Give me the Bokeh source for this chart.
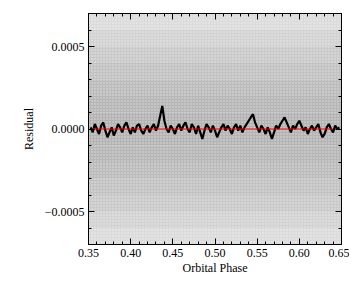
from bokeh.plotting import figure
from bokeh.models import (Range1d, SingleIntervalTicker, LinearAxis,
                          CustomJSTickFormatter, ColumnDataSource)
from bokeh.embed import file_html
from bokeh.resources import INLINE

# --- data ---
# density of the gray residual cloud per residual band (fraction of area covered)
band_bottom = [-0.00080, -0.00070, -0.00060, -0.00050, -0.00040, -0.00030, -0.00020, -0.00010,
               0.00000, 0.00010, 0.00020, 0.00030, 0.00040, 0.00050, 0.00060, 0.00070]
band_top = [-0.00070, -0.00060, -0.00050, -0.00040, -0.00030, -0.00020, -0.00010, 0.00000,
            0.00010, 0.00020, 0.00030, 0.00040, 0.00050, 0.00060, 0.00070, 0.00080]
band_cover = [0.30, 0.37, 0.45, 0.54, 0.62, 0.69, 0.74, 0.77,
              0.77, 0.74, 0.69, 0.62, 0.54, 0.45, 0.36, 0.29]

# binned residuals (black curve)
bin_phase = [0.3525, 0.3550, 0.3575, 0.3600, 0.3625, 0.3650, 0.3675, 0.3700, 0.3725, 0.3750,
             0.3775, 0.3800, 0.3825, 0.3850, 0.3875, 0.3900, 0.3925, 0.3950, 0.3975, 0.4000,
             0.4025, 0.4050, 0.4075, 0.4100, 0.4125, 0.4150, 0.4175, 0.4200, 0.4225, 0.4250,
             0.4275, 0.4300, 0.4325, 0.4350, 0.4375, 0.4400, 0.4425, 0.4450, 0.4475, 0.4500,
             0.4525, 0.4550, 0.4575, 0.4600, 0.4625, 0.4650, 0.4675, 0.4700, 0.4725, 0.4750,
             0.4775, 0.4800, 0.4825, 0.4850, 0.4875, 0.4900, 0.4925, 0.4950, 0.4975, 0.5000,
             0.5025, 0.5050, 0.5075, 0.5100, 0.5125, 0.5150, 0.5175, 0.5200, 0.5225, 0.5250,
             0.5275, 0.5300, 0.5325, 0.5350, 0.5375, 0.5400, 0.5425, 0.5450, 0.5475, 0.5500,
             0.5525, 0.5550, 0.5575, 0.5600, 0.5625, 0.5650, 0.5675, 0.5700, 0.5725, 0.5750,
             0.5775, 0.5800, 0.5825, 0.5850, 0.5875, 0.5900, 0.5925, 0.5950, 0.5975, 0.6000,
             0.6025, 0.6050, 0.6075, 0.6100, 0.6125, 0.6150, 0.6175, 0.6200, 0.6225, 0.6250,
             0.6275, 0.6300, 0.6325, 0.6350, 0.6375, 0.6400, 0.6425, 0.6450, 0.6475]
bin_resid_e5 = [1, -2, 3, 0, -3, 2, 4, -1, -5, -2,
                1, -4, -1, 3, 1, -2, 2, 4, 0, -3,
                1, -2, 2, 3, -1, -3, 0, 2, -2, 1,
                3, -1, 2, 8, 14, 5, 0, -2, 2, 0,
                -3, 1, 3, -1, 2, 4, 0, -2, 3, 1,
                -3, 2, -2, -6, -1, 3, 1, -2, 2, -1,
                -5, -2, 1, 3, -1, 2, 0, -3, 1, 3,
                -1, 2, -2, 1, 3, 5, 7, 9, 4, 1,
                -2, 2, 0, -3, 1, -2, -6, -2, 2, 0,
                3, 5, 7, 4, 1, -2, 2, 0, 3, 5,
                2, -1, 1, -3, 0, 2, -1, 1, 3, -2,
                -5, -3, 1, 3, 0, -2, 2, 0, 1]
bin_resid = [v * 1e-5 for v in bin_resid_e5]

# zero reference line
zero_phase = [0.355, 0.640]
zero_resid = [0.0, 0.0]

x_start, x_end = 0.35, 0.65
y_start, y_end = -0.0007, 0.0007

FONT = "Liberation Serif"

p = figure(width=349, height=279, output_backend="svg", toolbar_location=None,
           x_range=Range1d(x_start, x_end), y_range=Range1d(y_start, y_end),
           min_border_left=88, min_border_right=8, min_border_top=13,
           min_border_bottom=35, x_axis_location=None, y_axis_location=None)
p.background_fill_color = "white"
p.border_fill_color = "white"
p.outline_line_color = "black"
p.outline_line_width = 1
p.grid.visible = False

band_src = ColumnDataSource(dict(bottom=band_bottom, top=band_top, alpha=band_cover))
p.quad(left=x_start, right=x_end, bottom="bottom", top="top", source=band_src,
       fill_color="#9c9c9c", fill_alpha="alpha", line_color=None,
       hatch_pattern=".", hatch_color="white", hatch_alpha=0.55,
       hatch_scale=3, hatch_weight=1)

p.line(bin_phase, bin_resid, line_color="black", line_width=2.2)
p.line(zero_phase, zero_resid, line_color="red", line_width=1)

xfmt = CustomJSTickFormatter(code="return tick.toFixed(2).replace('-', '\u2212');")
yfmt = CustomJSTickFormatter(code="var s = Math.abs(tick) < 1e-12 ? (0).toFixed(4) : tick.toFixed(4); return s.replace('-', '\u2212');")
blank = CustomJSTickFormatter(code="return '';")

def style(ax):
    ax.axis_line_color = "black"
    ax.major_tick_in = 6
    ax.major_tick_out = 0
    ax.minor_tick_in = 3
    ax.minor_tick_out = 0
    ax.major_tick_line_color = "black"
    ax.minor_tick_line_color = "black"
    ax.major_label_text_font = FONT
    ax.major_label_text_font_size = "12px"
    ax.major_label_text_color = "black"
    ax.axis_label_text_font = FONT
    ax.axis_label_text_font_size = "12px"
    ax.axis_label_text_font_style = "normal"
    ax.axis_label_text_color = "black"

xb = LinearAxis(ticker=SingleIntervalTicker(interval=0.05, num_minor_ticks=5),
                formatter=xfmt, axis_label="Orbital Phase")
style(xb)
xb.major_label_standoff = 4
xb.axis_label_standoff = 1
p.add_layout(xb, "below")

xa = LinearAxis(ticker=SingleIntervalTicker(interval=0.05, num_minor_ticks=5), formatter=blank)
style(xa)
xa.major_label_standoff = 0
p.add_layout(xa, "above")

yl = LinearAxis(ticker=SingleIntervalTicker(interval=0.0005, num_minor_ticks=5),
                formatter=yfmt, axis_label="Residual")
style(yl)
yl.major_label_standoff = 4
yl.axis_label_standoff = 6
p.add_layout(yl, "left")

yr = LinearAxis(ticker=SingleIntervalTicker(interval=0.0005, num_minor_ticks=5), formatter=blank)
style(yr)
yr.major_label_standoff = 0
p.add_layout(yr, "right")

open("out.html", "w").write(file_html(p, INLINE))
